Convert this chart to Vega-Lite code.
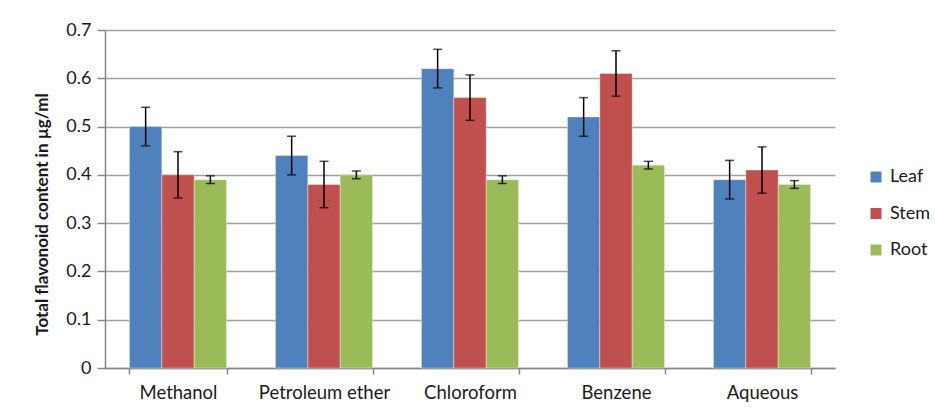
{
  "$schema": "https://vega.github.io/schema/vega-lite/v6.json",
  "autosize": {"type": "none"},
  "padding": {"left": 105, "top": 30, "right": 100, "bottom": 47},
  "width": 730,
  "height": 338,
  "background": "white",
  "config": {
    "font": "Lato",
    "view": {"stroke": null},
    "axis": {"labelFont": "Lato", "titleFont": "Lato", "labelColor": "#1a1a1a", "titleColor": "#1a1a1a"}
  },
  "data": {
    "values": [
      {"solvent": "Methanol", "part": "Leaf", "value": 0.50, "err": 0.040},
      {"solvent": "Methanol", "part": "Stem", "value": 0.40, "err": 0.048},
      {"solvent": "Methanol", "part": "Root", "value": 0.39, "err": 0.008},
      {"solvent": "Petroleum ether", "part": "Leaf", "value": 0.44, "err": 0.040},
      {"solvent": "Petroleum ether", "part": "Stem", "value": 0.38, "err": 0.048},
      {"solvent": "Petroleum ether", "part": "Root", "value": 0.40, "err": 0.008},
      {"solvent": "Chloroform", "part": "Leaf", "value": 0.62, "err": 0.040},
      {"solvent": "Chloroform", "part": "Stem", "value": 0.56, "err": 0.047},
      {"solvent": "Chloroform", "part": "Root", "value": 0.39, "err": 0.008},
      {"solvent": "Benzene", "part": "Leaf", "value": 0.52, "err": 0.040},
      {"solvent": "Benzene", "part": "Stem", "value": 0.61, "err": 0.047},
      {"solvent": "Benzene", "part": "Root", "value": 0.42, "err": 0.008},
      {"solvent": "Aqueous", "part": "Leaf", "value": 0.39, "err": 0.040},
      {"solvent": "Aqueous", "part": "Stem", "value": 0.41, "err": 0.048},
      {"solvent": "Aqueous", "part": "Root", "value": 0.38, "err": 0.008}
    ]
  },
  "encoding": {
    "x": {
      "field": "solvent", "type": "nominal", "sort": null,
      "scale": {"paddingInner": 0.335, "paddingOuter": 0.1675},
      "axis": {
        "title": null, "labelAngle": 0, "labelFontSize": 18.5, "labelPadding": 9,
        "tickBand": "extent", "tickSize": 6, "tickColor": "#868686",
        "domainColor": "#868686", "domainWidth": 1.5, "tickWidth": 1.5
      }
    },
    "xOffset": {"field": "part", "type": "nominal", "sort": ["Leaf", "Stem", "Root"]}
  },
  "layer": [
    {
      "mark": {"type": "bar", "stroke": "#ffffff", "strokeWidth": 0.6, "strokeOpacity": 0.6},
      "encoding": {
        "y": {
          "field": "value", "type": "quantitative",
          "scale": {"domain": [0, 0.7]},
          "axis": {
            "title": "Total flavonoid content in µg/ml",
            "titleFontSize": 17, "titleFontWeight": "bold",
            "titleX": -63, "titleY": 184, "titleAngle": -90, "titleBaseline": "middle", "titleAlign": "center",
            "values": [0, 0.1, 0.2, 0.3, 0.4, 0.5, 0.6, 0.7],
            "format": ".1~f",
            "labelFontSize": 18, "labelPadding": 6,
            "tickSize": 8, "tickColor": "#868686", "tickWidth": 1.5,
            "domainColor": "#868686", "domainWidth": 1.5,
            "grid": true, "gridColor": "#a0a0a0", "gridWidth": 1.5
          }
        },
        "color": {
          "field": "part", "type": "nominal",
          "scale": {"domain": ["Leaf", "Stem", "Root"], "range": ["#4F81BD", "#C0504D", "#9BBB59"]},
          "legend": {
            "title": null, "orient": "none", "legendX": 762, "legendY": 138,
            "symbolType": "square", "symbolSize": 121, "symbolStrokeWidth": 0,
            "labelFontSize": 18, "labelColor": "#1a1a1a", "labelFont": "Lato",
            "rowPadding": 18.5, "labelOffset": 5
          }
        }
      }
    },
    {
      "mark": {"type": "errorbar", "color": "black", "thickness": 1.5, "ticks": {"size": 9, "thickness": 1.5, "color": "black"}},
      "encoding": {
        "y": {"field": "value", "type": "quantitative", "title": "Total flavonoid content in µg/ml"},
        "yError": {"field": "err"}
      }
    }
  ]
}
